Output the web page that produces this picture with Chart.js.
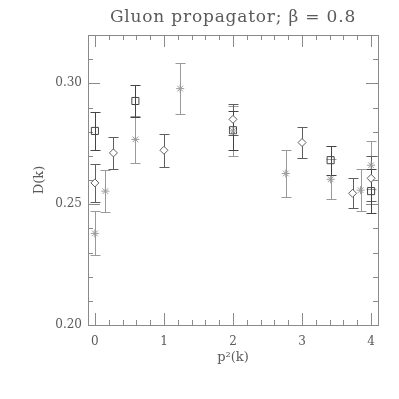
<!DOCTYPE html>
<html><head><meta charset="utf-8">
<script src="https://cdn.jsdelivr.net/npm/chart.js@4/dist/chart.umd.min.js"></script>
<style>html,body{margin:0;padding:0;background:#fff;}</style>
</head><body>
<canvas id="c" width="399" height="399"></canvas>
<script>
const titleText = 'Gluon propagator; \u03B2 = 0.8';
const xTitle = 'p\u00B2(k)';
const yTitle = 'D(k)';
const xTickValues = [0, 1, 2, 3, 4];
const yTickValues = [0.20, 0.25, 0.30];

// squares (L=8)
const sqX = [0, 0.586, 2, 3.414, 4];
const sqY = [0.2803, 0.2927, 0.2806, 0.2682, 0.2554];
const sqE = [0.0080, 0.0067, 0.0080, 0.0060, 0.0090];
// diamonds (L=12)
const diX = [0, 0.268, 1, 2, 3, 3.732, 4];
const diY = [0.2588, 0.2712, 0.2723, 0.2851, 0.2755, 0.2545, 0.2607];
const diE = [0.0077, 0.0065, 0.0068, 0.0065, 0.0063, 0.0062, 0.0092];
// asterisks (L=16)
const stX = [0, 0.152, 0.586, 1.235, 2, 2.765, 3.414, 3.848, 4];
const stY = [0.2379, 0.2554, 0.2768, 0.2978, 0.2803, 0.2627, 0.2603, 0.2558, 0.2661];
const stE = [0.0091, 0.0086, 0.0096, 0.0105, 0.0103, 0.0098, 0.0082, 0.0086, 0.0100];

const toPts = (xs, ys, es) => xs.map((x, i) => ({x: x, y: ys[i], e: es[i]}));

const frameColor = '#8a8a8a';
const textColor = '#5a5a5a';
const FONT = "'DejaVu Serif', serif";

const titlePlugin = {
  id: 'plotTitle',
  afterDraw(chart) {
    const {ctx, chartArea: a} = chart;
    ctx.save();
    ctx.fillStyle = textColor;
    ctx.font = "17px " + FONT;
    try { ctx.letterSpacing = '0.8px'; } catch (e) {}
    ctx.textAlign = 'center';
    ctx.textBaseline = 'middle';
    ctx.fillText(titleText, (a.left + a.right) / 2, 18);
    ctx.restore();
  }
};

const errorBars = {
  id: 'errorBars',
  beforeDatasetsDraw(chart) {
    const {ctx, scales: {x, y}, chartArea: a} = chart;
    ctx.save();
    ctx.strokeStyle = frameColor;
    ctx.lineWidth = 1;
    ctx.strokeRect(Math.round(a.left) + 0.5, Math.round(a.top) + 0.5,
                   Math.round(a.right - a.left), Math.round(a.bottom - a.top));
    ctx.beginPath();
    for (let k = 0; k <= 20; k++) {
      const v = k * 0.2;
      const px = Math.round(x.getPixelForValue(v)) + 0.5;
      const len = (k % 5 === 0) ? 12 : 5;
      ctx.moveTo(px, a.bottom); ctx.lineTo(px, a.bottom - len);
      ctx.moveTo(px, a.top); ctx.lineTo(px, a.top + len);
    }
    for (let k = 20; k <= 32; k++) {
      const v = k / 100;
      const py = Math.round(y.getPixelForValue(v)) + 0.5;
      const len = (k % 5 === 0) ? 12 : 5;
      ctx.moveTo(a.left, py); ctx.lineTo(a.left + len, py);
      ctx.moveTo(a.right, py); ctx.lineTo(a.right - len, py);
    }
    ctx.stroke();
    ctx.restore();
    chart.data.datasets.forEach((ds) => {
      ctx.save();
      ctx.strokeStyle = ds.borderColor;
      ctx.lineWidth = 1;
      ctx.beginPath();
      ds.data.forEach(p => {
        const px = Math.round(x.getPixelForValue(p.x)) + 0.5;
        const y1 = Math.round(y.getPixelForValue(p.y - p.e)) + 0.5;
        const y2 = Math.round(y.getPixelForValue(p.y + p.e)) + 0.5;
        ctx.moveTo(px, y1); ctx.lineTo(px, y2);
        ctx.moveTo(px - 5, y1); ctx.lineTo(px + 5, y1);
        ctx.moveTo(px - 5, y2); ctx.lineTo(px + 5, y2);
      });
      ctx.stroke();
      ctx.restore();
    });
  }
};

new Chart(document.getElementById('c'), {
  type: 'scatter',
  data: {
    datasets: [
      {label: 'L=16', data: toPts(stX, stY, stE), pointStyle: 'star', radius: 4,
       borderColor: '#9a9a9a', backgroundColor: '#9a9a9a', borderWidth: 1, showLine: false},
      {label: 'L=12', data: toPts(diX, diY, diE), pointStyle: 'rectRot', radius: 4,
       borderColor: '#5e5e5e', backgroundColor: '#ffffff', borderWidth: 1, showLine: false},
      {label: 'L=8', data: toPts(sqX, sqY, sqE), pointStyle: 'rect', radius: 5,
       borderColor: '#444444', backgroundColor: 'rgba(255,255,255,0)', borderWidth: 1, showLine: false}
    ]
  },
  options: {
    responsive: false,
    devicePixelRatio: 1,
    animation: false,
    layout: {padding: {left: 0, right: 21, top: 35, bottom: 0}},
    plugins: {
      legend: {display: false},
      tooltip: {enabled: false},
      title: {display: false}
    },
    scales: {
      x: {
        type: 'linear', min: -0.1, max: 4.1,
        grid: {display: false, drawTicks: false}, border: {display: false},
        afterBuildTicks: s => { s.ticks = xTickValues.map(v => ({value: v})); },
        ticks: {color: textColor, padding: 10, font: {family: FONT, size: 12},
                callback: v => String(v)},
        title: {display: true, text: xTitle, color: textColor,
                font: {family: FONT, size: 13, lineHeight: 1.2}, padding: {top: 0, bottom: 34}},
        afterFit: s => { s.height = 74; }
      },
      y: {
        type: 'linear', min: 0.20, max: 0.32,
        grid: {display: false, drawTicks: false}, border: {display: false},
        afterBuildTicks: s => { s.ticks = yTickValues.map(v => ({value: v})); },
        ticks: {color: textColor, padding: 6, font: {family: FONT, size: 12},
                callback: v => Number(v).toFixed(2)},
        title: {display: true, text: yTitle, color: textColor,
                font: {family: FONT, size: 13, lineHeight: 1.2}, padding: {top: 32, bottom: 0}},
        afterFit: s => { s.width = 88; }
      }
    }
  },
  plugins: [errorBars, titlePlugin]
});
</script>
</body></html>
